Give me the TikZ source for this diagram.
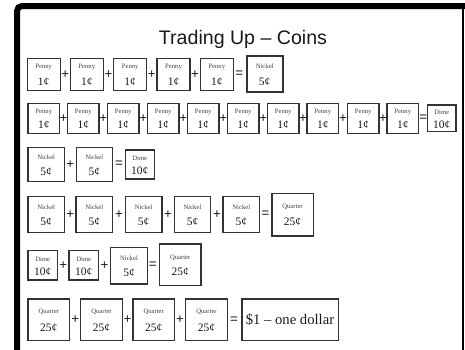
\documentclass[tikz,border=0pt]{standalone}
\usepackage{fontspec}
\setmainfont{Liberation Serif}
\newfontfamily\sansf{Liberation Sans}
\newlength\pxl
\setlength\pxl{0.75pt}
\tikzset{
  cbox/.style={draw=black!80, line width=1.3\pxl, inner sep=0pt},
  rbox/.style={cbox, line width=1.6\pxl},
  clab/.style={inner sep=0pt, text=black!75, font=\fontsize{5}{5.5}\selectfont},
  cval/.style={inner sep=0pt, text=black!90, font=\fontsize{8.6}{9}\selectfont},
  opsign/.style={inner sep=0pt, text=black!90, font=\sansf\fontsize{10}{11}\selectfont},
  frame/.style={line width=6\pxl, rounded corners=5\pxl},
}
% #1 name, #2 x, #3 y, #4 width, #5 height, #6 label, #7 value, #8 offset, #9 style
\newcommand\coinbox[9]{%
  \node[#9, minimum width=#4\pxl, minimum height=#5\pxl] (#1) at (#2,#3) {};
  \node[clab] (#1l) at ([yshift=#8\pxl]#1.center) {#6};
  \node[cval] (#1v) at ([yshift=-#8\pxl]#1.center) {#7};
}
\begin{document}
\begin{tikzpicture}[x=0.75pt, y=-0.75pt]
\useasboundingbox (0,0) rectangle (465,350);
% frame
\draw[frame] (17,353) -- (17,6) -- (468,6);
\draw[line width=1.6\pxl] (463,6) -- (463,353);
% title
\node[inner sep=0pt, text=black!90, font=\sansf\fontsize{14.7}{16}\selectfont] (title) at (243,39) {Trading Up – Coins};

% Row 1
\coinbox{a1}{43.7}{74.5}{33}{32}{Penny}{1¢}{7.5}{cbox}
\coinbox{a2}{86.8}{74.5}{33}{32}{Penny}{1¢}{7.5}{cbox}
\coinbox{a3}{130.2}{74.5}{33}{32}{Penny}{1¢}{7.5}{cbox}
\coinbox{a4}{173.5}{74.5}{33}{32}{Penny}{1¢}{7.5}{cbox}
\coinbox{a5}{216.8}{74.5}{33}{32}{Penny}{1¢}{7.5}{cbox}
\coinbox{ar}{264.7}{74.2}{36}{36}{Nickel}{5¢}{7.5}{rbox}
\node[opsign] (ap1) at (65.3,74.5) {+};
\node[opsign] (ap2) at (108.5,74.5) {+};
\node[opsign] (ap3) at (151.8,74.5) {+};
\node[opsign] (ap4) at (195.1,74.5) {+};
\node[opsign] (aeq) at (239.3,74.5) {=};

% Row 2
\coinbox{b1}{43.8}{118.3}{31.5}{30}{Penny}{1¢}{6}{cbox}
\coinbox{b2}{83.3}{118.3}{31.5}{30}{Penny}{1¢}{6}{cbox}
\coinbox{b3}{123.2}{118.3}{31.5}{30}{Penny}{1¢}{6}{cbox}
\coinbox{b4}{163.2}{118.3}{31.5}{30}{Penny}{1¢}{6}{cbox}
\coinbox{b5}{203.2}{118.3}{31.5}{30}{Penny}{1¢}{6}{cbox}
\coinbox{b6}{243.2}{118.3}{31.5}{30}{Penny}{1¢}{6}{cbox}
\coinbox{b7}{283.2}{118.3}{31.5}{30}{Penny}{1¢}{6}{cbox}
\coinbox{b8}{322.8}{118.3}{31.5}{30}{Penny}{1¢}{6}{cbox}
\coinbox{b9}{363.2}{118.3}{31.5}{30}{Penny}{1¢}{6}{cbox}
\coinbox{b10}{402.8}{118.3}{31.5}{30}{Penny}{1¢}{6}{cbox}
\coinbox{br}{441.8}{118.3}{28.3}{26.7}{Dime}{10¢}{6}{rbox}
\node[opsign] (bp1) at (63.6,118.3) {+};
\node[opsign] (bp2) at (103.3,118.3) {+};
\node[opsign] (bp3) at (143.2,118.3) {+};
\node[opsign] (bp4) at (183.2,118.3) {+};
\node[opsign] (bp5) at (223.2,118.3) {+};
\node[opsign] (bp6) at (263.2,118.3) {+};
\node[opsign] (bp7) at (303,118.3) {+};
\node[opsign] (bp8) at (343,118.3) {+};
\node[opsign] (bp9) at (382.9,118.3) {+};
\node[opsign] (beq) at (423.3,118.3) {=};

% Row 3
\coinbox{c1}{46.2}{164.5}{36.3}{34.4}{Nickel}{5¢}{7}{cbox}
\coinbox{c2}{94.3}{164.5}{36.3}{34.4}{Nickel}{5¢}{7}{cbox}
\coinbox{cr}{139.8}{164.5}{29}{29}{Dime}{10¢}{6.5}{rbox}
\node[opsign] (cp1) at (70.2,164.5) {+};
\node[opsign] (ceq) at (119,164.5) {=};

% Row 4
\coinbox{d1}{46.2}{214.7}{36.5}{36}{Nickel}{5¢}{7.3}{cbox}
\coinbox{d2}{94.3}{214.7}{36.5}{36}{Nickel}{5¢}{7.3}{cbox}
\coinbox{d3}{143.6}{214.7}{36.5}{36}{Nickel}{5¢}{7.3}{cbox}
\coinbox{d4}{192.5}{214.7}{36.5}{36}{Nickel}{5¢}{7.3}{cbox}
\coinbox{d5}{241.3}{214.7}{36.5}{36}{Nickel}{5¢}{7.3}{cbox}
\coinbox{dr}{292.5}{214.5}{41.6}{42.4}{Quarter}{25¢}{7.3}{rbox}
\node[opsign] (dp1) at (70.2,214.7) {+};
\node[opsign] (dp2) at (119,214.7) {+};
\node[opsign] (dp3) at (168,214.7) {+};
\node[opsign] (dp4) at (216.9,214.7) {+};
\node[opsign] (deq) at (265.5,214.7) {=};

% Row 5
\coinbox{e1}{42.8}{265.3}{29.7}{29.3}{Dime}{10¢}{6}{cbox}
\coinbox{e2}{83.8}{265.3}{29.7}{29.3}{Dime}{10¢}{6}{cbox}
\coinbox{e3}{129}{265.7}{37.4}{36.7}{Nickel}{5¢}{7}{cbox}
\coinbox{er}{180.2}{264.8}{41.7}{41.7}{Quarter}{25¢}{7.3}{rbox}
\node[opsign] (ep1) at (63.3,265.3) {+};
\node[opsign] (ep2) at (104.5,265.3) {+};
\node[opsign] (eeq) at (152.7,265.3) {=};

% Row 6
\coinbox{f1}{48.8}{319.8}{41.7}{41.7}{Quarter}{25¢}{7.5}{cbox}
\coinbox{f2}{101.5}{319.8}{41.7}{41.7}{Quarter}{25¢}{7.5}{cbox}
\coinbox{f3}{153.7}{319.8}{41.7}{41.7}{Quarter}{25¢}{7.5}{cbox}
\coinbox{f4}{206.5}{319.8}{41.7}{41.7}{Quarter}{25¢}{7.5}{cbox}
\node[rbox, minimum width=96.6\pxl, minimum height=41.7\pxl, text=black!90, font=\fontsize{11}{12}\selectfont] (fr) at (290,319.8) {\$1 – one dollar};
\node[opsign] (fp1) at (75.2,319.8) {+};
\node[opsign] (fp2) at (127.6,319.8) {+};
\node[opsign] (fp3) at (180.1,319.8) {+};
\node[opsign] (feq) at (234,319.8) {=};
\end{tikzpicture}
\end{document}
